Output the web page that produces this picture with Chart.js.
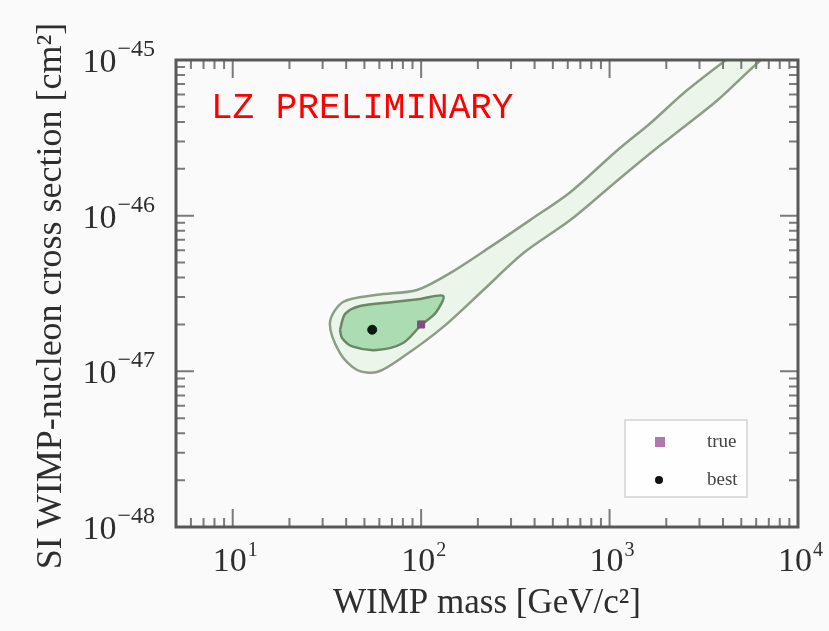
<!DOCTYPE html>
<html>
<head>
<meta charset="utf-8">
<script src="https://cdn.jsdelivr.net/npm/chart.js@4/dist/chart.umd.min.js"></script>
<style>
  html, body { margin: 0; padding: 0; background: #fafafa; }
  canvas { display: block; }
</style>
</head>
<body>
<canvas id="myChart" width="829" height="631"></canvas>
<script>
//Axis ticks (powers of ten)
let xTickExps = [1, 2, 3, 4];
let yTickExps = [-48, -47, -46, -45];

//Outer contour (mass in GeV/c2, cross section in cm2)
let outerMass = [10000, 4140, 2477, 1652, 1104, 621, 380, 233, 143, 95, 58.3, 38.5, 32.8, 37.1, 45.7, 58.3, 80.2, 131, 214, 349, 621, 1104, 1652, 2477, 3750, 6350, 10000, 10000];
let outerSigma = [2.3e-45, 1e-45, 6.14e-46, 3.94e-46, 2.64e-46, 1.42e-46, 9.4e-47, 6.3e-47, 4.29e-47, 3.33e-47, 3.1e-47, 2.79e-47, 2.05e-47, 1.31e-47, 1.02e-47, 9.9e-48, 1.24e-47, 1.93e-47, 3.33e-47, 5.75e-47, 9.4e-47, 1.69e-46, 2.53e-46, 3.71e-46, 5.53e-46, 1e-45, 1.55e-45, 2.3e-45];

//Inner contour
let innerMass = [37.1, 39.5, 47.4, 71, 98.9, 131, 120, 100, 80.2, 58.3, 43.5, 38, 37.1];
let innerSigma = [1.85e-47, 2.34e-47, 2.63e-47, 2.79e-47, 2.92e-47, 3.05e-47, 2.4e-47, 1.98e-47, 1.52e-47, 1.37e-47, 1.44e-47, 1.64e-47, 1.85e-47];

//Points
let trueMass = [100];
let trueSigma = [2e-47];
let bestMass = [55];
let bestSigma = [1.85e-47];

function toPoints(xs, ys) {
  return xs.map(function (x, i) { return {x: x, y: ys[i]}; });
}

function sup(ctx, base, exp, x, y, align, bigFont, smallFont, lift) {
  ctx.font = bigFont;
  const wb = ctx.measureText(base).width;
  ctx.font = smallFont;
  const we = ctx.measureText(exp).width;
  let left = x;
  if (align === 'right') left = x - wb - we - 1;
  if (align === 'center') left = x - (wb + we) / 2;
  ctx.textAlign = 'left';
  ctx.textBaseline = 'alphabetic';
  ctx.font = bigFont;
  ctx.fillText(base, left, y);
  ctx.font = smallFont;
  ctx.fillText(exp, left + wb + 1, y - lift);
}

//Frame, inside ticks and labels
const frameAndLabels = {
  id: 'frameAndLabels',
  afterDatasetsDraw(chart) {
    const {ctx, chartArea: {left, top, right, bottom}, scales: {x, y}} = chart;
    ctx.save();
    ctx.strokeStyle = '#7a7a7a';
    ctx.lineWidth = 2;
    xTickExps.concat([0]).forEach(function (e) {
      for (let k = 1; k <= 9; k++) {
        const v = k * Math.pow(10, e);
        if (v < x.min || v > x.max) continue;
        const px = x.getPixelForValue(v);
        const len = k === 1 ? 18 : 9;
        ctx.beginPath();
        ctx.moveTo(px, bottom); ctx.lineTo(px, bottom - len);
        ctx.moveTo(px, top); ctx.lineTo(px, top + len);
        ctx.stroke();
      }
    });
    yTickExps.forEach(function (e) {
      for (let k = 1; k <= 9; k++) {
        const v = k * Math.pow(10, e);
        if (v < y.min * 0.999 || v > y.max * 1.001) continue;
        const py = y.getPixelForValue(v);
        const len = k === 1 ? 18 : 9;
        ctx.beginPath();
        ctx.moveTo(left, py); ctx.lineTo(left + len, py);
        ctx.moveTo(right, py); ctx.lineTo(right - len, py);
        ctx.stroke();
      }
    });
    ctx.strokeStyle = '#585858';
    ctx.lineWidth = 3;
    ctx.strokeRect(left, top, right - left, bottom - top);
    ctx.restore();
  },
  afterDraw(chart) {
    const {ctx, chartArea: {left, top, right, bottom}, scales: {x, y}} = chart;
    ctx.save();
    ctx.fillStyle = '#2e2e2e';
    const big = '34px "Liberation Serif"';
    xTickExps.forEach(function (e) {
      sup(ctx, '10', String(e), x.getPixelForValue(Math.pow(10, e)) + 2, bottom + 44, 'center', big, '20px "Liberation Serif"', 15);
    });
    yTickExps.forEach(function (e) {
      sup(ctx, '10', '\u2212' + Math.abs(e), left - 21, y.getPixelForValue(Math.pow(10, e)) + 12, 'right', big, '24px "Liberation Serif"', 16);
    });

    //axis titles
    ctx.font = '35px "Liberation Serif"';
    ctx.textAlign = 'center';
    ctx.textBaseline = 'middle';
    ctx.fillText('WIMP mass [GeV/c\u00b2]', (left + right) / 2, 604);
    ctx.save();
    ctx.translate(52, 296);
    ctx.rotate(-Math.PI / 2);
    ctx.font = '36px "Liberation Serif"';
    ctx.fillText('SI WIMP-nucleon cross section [cm\u00b2]', 0, 0);
    ctx.restore();

    //preliminary tag
    ctx.fillStyle = '#ff0000';
    ctx.font = '36px "Liberation Mono"';
    ctx.textAlign = 'left';
    ctx.textBaseline = 'alphabetic';
    ctx.fillText('LZ PRELIMINARY', 211, 118);

    //legend
    const bx = right - 173, by = bottom - 107, bw = 122, bh = 77;
    ctx.fillStyle = 'rgba(255,255,255,0.8)';
    ctx.fillRect(bx, by, bw, bh);
    ctx.strokeStyle = '#dddddd';
    ctx.lineWidth = 2;
    ctx.strokeRect(bx, by, bw, bh);
    ctx.fillStyle = '#b277ab';
    ctx.fillRect(bx + 30, by + 17, 10, 10);
    ctx.fillStyle = '#111111';
    ctx.beginPath();
    ctx.arc(bx + 34, by + 60, 4, 0, Math.PI * 2);
    ctx.fill();
    ctx.fillStyle = '#444444';
    ctx.font = '19px "Liberation Serif"';
    ctx.textBaseline = 'middle';
    ctx.fillText('true', bx + 82, by + 22);
    ctx.fillText('best', bx + 82, by + 60);
    ctx.restore();
  }
};

new Chart('myChart', {
  type: 'scatter',
  data: {
    datasets: [{
      label: 'outer',
      data: toPoints(outerMass, outerSigma),
      showLine: true,
      fill: 'shape',
      backgroundColor: 'rgba(205,235,200,0.3)',
      borderColor: '#8c9c86',
      borderWidth: 2.5,
      tension: 0.3,
      pointRadius: 0,
      order: 3
    }, {
      label: 'inner',
      data: toPoints(innerMass, innerSigma),
      showLine: true,
      fill: 'shape',
      backgroundColor: '#acdcb1',
      borderColor: '#6a8766',
      borderWidth: 2.5,
      tension: 0.3,
      pointRadius: 0,
      order: 2
    }, {
      label: 'true',
      data: toPoints(trueMass, trueSigma),
      pointStyle: 'rect',
      pointRadius: 5,
      backgroundColor: '#7d4f7c',
      borderColor: '#7d4f7c',
      order: 1
    }, {
      label: 'best',
      data: toPoints(bestMass, bestSigma),
      pointStyle: 'circle',
      pointRadius: 4.5,
      backgroundColor: '#0d1a12',
      borderColor: '#0d1a12',
      order: 0
    }]
  },
  options: {
    responsive: false,
    animation: false,
    layout: { padding: { left: 176, top: 60, right: 31, bottom: 104 } },
    scales: {
      x: { type: 'logarithmic', min: 5, max: 10000, display: false },
      y: { type: 'logarithmic', min: 1e-48, max: 1e-45, display: false }
    },
    plugins: {
      legend: { display: false },
      tooltip: { enabled: false }
    }
  },
  plugins: [frameAndLabels]
});
</script>
</body>
</html>
